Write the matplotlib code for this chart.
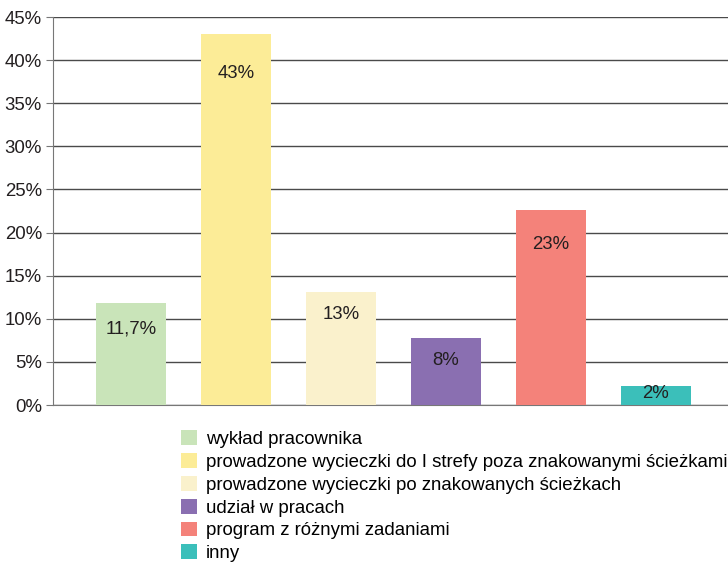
import matplotlib.pyplot as plt
from matplotlib.patches import Patch

plt.rcParams["font.family"] = ["Liberation Sans", "DejaVu Sans"]

categories = [
    "wykład pracownika",
    "prowadzone wycieczki do I strefy poza znakowanymi ścieżkami",
    "prowadzone wycieczki po znakowanych ścieżkach",
    "udział w pracach",
    "program z różnymi zadaniami",
    "inny",
]
values = [11.8, 43.0, 13.1, 7.8, 22.6, 2.2]
labels = ["11,7%", "43%", "13%", "8%", "23%", "2%"]
colors = ["#c9e4b9", "#fcec97", "#faf1cc", "#8a6fb1", "#f4827a", "#3bbfba"]
yticks = [0, 5, 10, 15, 20, 25, 30, 35, 40, 45]

# how far below the bar top each value label sits (in % units)
label_drop = [3.0, 4.6, 2.6, 2.6, 4.0, 0.9]

FS = 13.4

fig = plt.figure(figsize=(7.28, 5.63), dpi=100)
ax = fig.add_axes([53 / 728, 158 / 563, 1 - 53 / 728, 388 / 563])

x = list(range(len(values)))
ax.bar(x, values, width=0.67, color=colors, zorder=3)
for xi, v, lab, d in zip(x, values, labels, label_drop):
    ax.text(xi, v - d, lab, ha="center", va="center", fontsize=FS, color="#231f20", zorder=4)

ax.set_xlim(-0.743, 5.686)
ax.set_ylim(0, 45)
ax.set_yticks(yticks)
ax.set_yticklabels([f"{t}%" for t in yticks], fontsize=FS, color="#231f20")
ax.set_xticks([])
ax.grid(axis="y", color="#4a4a4a", linewidth=1, zorder=0)
for s in ["top", "right"]:
    ax.spines[s].set_visible(False)
ax.spines["left"].set_color("#777777")
ax.spines["bottom"].set_color("#777777")
ax.tick_params(axis="y", length=5, color="#777777", pad=3)

handles = [Patch(facecolor=c, edgecolor="none") for c in colors]
fig.legend(
    handles,
    categories,
    loc="upper left",
    bbox_to_anchor=(168 / 728, 1 - 417 / 563),
    frameon=False,
    fontsize=FS,
    handlelength=0.85,
    handleheight=0.85,
    handletextpad=0.5,
    labelspacing=0.27,
    borderpad=0.2,
)

fig.savefig("out.png", dpi=100)
